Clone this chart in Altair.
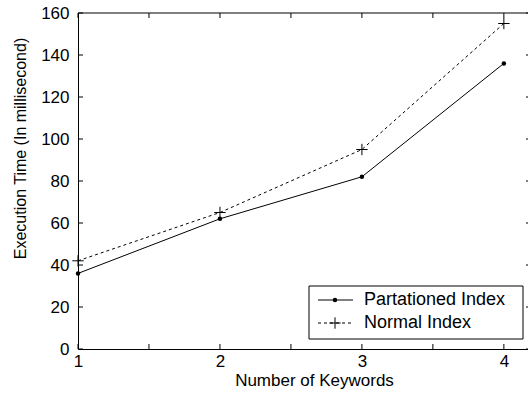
import altair as alt
import pandas as pd

# ---- data ----
keywords = [1, 2, 3, 4]
partitioned = [36, 62, 82, 136]
normal = [42, 65, 95, 155]
series_names = ["Partationed Index", "Normal Index"]
x_tick_vals = [1, 1.5, 2, 2.5, 3, 3.5, 4]
x_label_vals = [1, 2, 3, 4]
y_tick_vals = [0, 20, 40, 60, 80, 100, 120, 140, 160]

W, H = 450, 336
FONT = "Liberation Sans"
FS = 17

df_p = pd.DataFrame({"x": keywords, "y": partitioned})
df_n = pd.DataFrame({"x": keywords, "y": normal})
df_xt = pd.DataFrame({"x": x_tick_vals})
df_yt = pd.DataFrame({"y": y_tick_vals})

xs = alt.Scale(domain=[1, 4.17], nice=False, zero=False)
ys = alt.Scale(domain=[0, 160], nice=False)

xaxis = alt.Axis(values=x_label_vals, ticks=False, grid=False, domain=True,
                 domainColor="black", labelFont=FONT, labelFontSize=FS,
                 labelColor="black", labelPadding=4, labelFlush=False,
                 title="Number of Keywords", titleFont=FONT, titleFontSize=FS,
                 titleFontWeight="normal", titleColor="black",
                 titleX=236, titleY=31, titleBaseline="middle")
yaxis = alt.Axis(values=y_tick_vals, ticks=False, grid=False, domain=True,
                 domainColor="black", labelFont=FONT, labelFontSize=FS,
                 labelColor="black", labelPadding=9, labelFlush=False,
                 title="Execution Time (In millisecond)", titleFont=FONT,
                 titleFontSize=16, titleFontWeight="normal", titleColor="black",
                 titleX=-58, titleY=135, titleAngle=-90, titleBaseline="middle",
                 titleAlign="center")

X = alt.X("x:Q", scale=xs, axis=xaxis)
Y = alt.Y("y:Q", scale=ys, axis=yaxis)

line_p = alt.Chart(df_p).mark_line(color="black", strokeWidth=1).encode(x=X, y=Y)
pts_p = alt.Chart(df_p).mark_point(shape="circle", filled=True, color="black",
                                   size=20, opacity=1).encode(x=X, y=Y)
line_n = alt.Chart(df_n).mark_line(color="black", strokeWidth=1,
                                   strokeDash=[3, 3]).encode(x=X, y=Y)
CROSS = "M-1,0H1M0,-1V1"
pts_n = alt.Chart(df_n).mark_point(shape=CROSS, filled=False, color="black",
                                   size=130, strokeWidth=1, opacity=1).encode(x=X, y=Y)

# inward ticks
xt_bot = alt.Chart(df_xt).mark_rule(color="black", strokeWidth=1).encode(
    x=X, y=alt.value(H - 5), y2=alt.value(H))
xt_top = alt.Chart(df_xt).mark_rule(color="black", strokeWidth=1).encode(
    x=X, y=alt.value(0), y2=alt.value(5))
yt_left = alt.Chart(df_yt).mark_rule(color="black", strokeWidth=1).encode(
    y=Y, x=alt.value(0), x2=alt.value(5))
yt_right = alt.Chart(df_yt).mark_rule(color="black", strokeWidth=1).encode(
    y=Y, x=alt.value(W - 2), x2=alt.value(W))
top_border = alt.Chart(df_yt.head(1)).mark_rule(color="black", strokeWidth=1).encode(
    x=alt.value(0), x2=alt.value(W), y=alt.value(0))

# legend
df_l0 = pd.DataFrame({"name": [series_names[0]]})
df_l1 = pd.DataFrame({"name": [series_names[1]]})
LX0, LX1, LY0, LY1 = 231, 445, 273, 326
R0, R1 = 287, 310
SX0, SX1, SXM, TX = 240, 275, 257, 286
LFS = 18

leg_box = alt.Chart(df_l0).mark_rect(fill="white", stroke="black", strokeWidth=1).encode(
    x=alt.value(LX0), x2=alt.value(LX1), y=alt.value(LY0), y2=alt.value(LY1))
leg_line0 = alt.Chart(df_l0).mark_rule(color="black", strokeWidth=1).encode(
    x=alt.value(SX0), x2=alt.value(SX1), y=alt.value(R0))
leg_pt0 = alt.Chart(df_l0).mark_point(shape="circle", filled=True, color="black",
                                      size=20, opacity=1).encode(
    x=alt.value(SXM), y=alt.value(R0))
leg_txt0 = alt.Chart(df_l0).mark_text(align="left", baseline="middle", font=FONT,
                                      fontSize=LFS, color="black").encode(
    x=alt.value(TX), y=alt.value(R0), text="name:N")
leg_line1 = alt.Chart(df_l1).mark_rule(color="black", strokeWidth=1,
                                       strokeDash=[3, 3]).encode(
    x=alt.value(SX0), x2=alt.value(SX1), y=alt.value(R1))
leg_pt1 = alt.Chart(df_l1).mark_point(shape=CROSS, filled=False, color="black",
                                      size=130, strokeWidth=1, opacity=1).encode(
    x=alt.value(SXM), y=alt.value(R1))
leg_txt1 = alt.Chart(df_l1).mark_text(align="left", baseline="middle", font=FONT,
                                      fontSize=LFS, color="black").encode(
    x=alt.value(TX), y=alt.value(R1), text="name:N")

chart = alt.layer(
    line_p, line_n, pts_p, pts_n,
    xt_bot, xt_top, yt_left, yt_right, top_border,
    leg_box, leg_line0, leg_pt0, leg_txt0, leg_line1, leg_pt1, leg_txt1,
).properties(
    width=W, height=H,
    autosize=alt.AutoSizeParams(type="none"),
    padding={"left": 78, "top": 13, "right": 0, "bottom": 44},
    background="white",
).configure_view(stroke=None)

chart.save("out.html", embed_options={"renderer": "svg", "actions": False})
